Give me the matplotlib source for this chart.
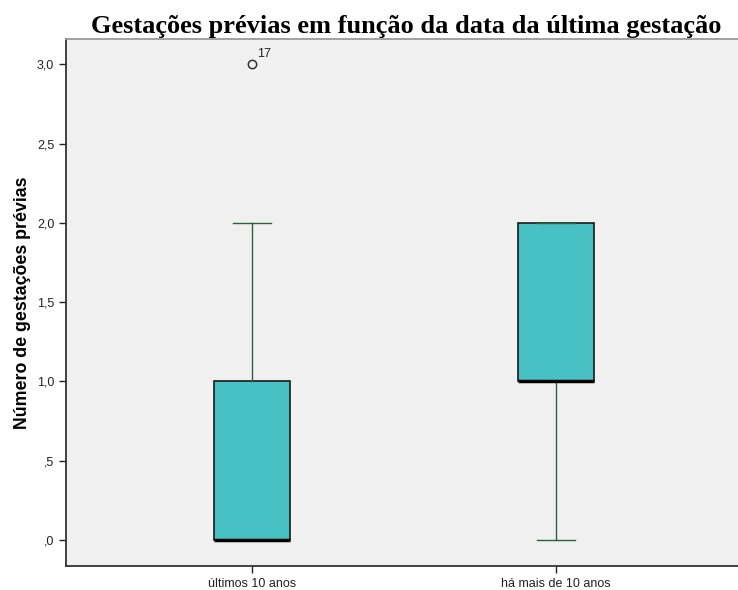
import matplotlib
matplotlib.use("Agg")
import matplotlib.pyplot as plt

# Summary statistics per group
categories = ["últimos 10 anos", "há mais de 10 anos"]
whisker_low = [0.0, 0.0]
q1 = [0.0, 1.0]
median = [0.0, 1.0]
q3 = [1.0, 2.0]
whisker_high = [2.0, 2.0]
outliers = [[3.0], []]
outlier_ids = [["17"], []]

yticks = [0.0, 0.5, 1.0, 1.5, 2.0, 2.5, 3.0]
ytick_labels = [",0", ",5", "1,0", "1,5", "2,0", "2,5", "3,0"]

W, H = 738, 590
fig = plt.figure(figsize=(W / 100, H / 100), dpi=100)
ax = fig.add_axes([66 / W, 1 - 566 / H, (W - 66) / W, (566 - 39) / H])
ax.set_facecolor("#f0f0f0")

stats = []
for i, name in enumerate(categories):
    stats.append(dict(label=name, whislo=whisker_low[i], q1=q1[i], med=median[i],
                      q3=q3[i], whishi=whisker_high[i], fliers=outliers[i]))

positions = [1, 2]
ax.bxp(stats, positions=positions, widths=0.25, patch_artist=True, showfliers=True,
       boxprops=dict(facecolor="#48c1c5", edgecolor="#1a1a1a", linewidth=1.2),
       medianprops=dict(color="black", linewidth=2.5),
       whiskerprops=dict(color="#2f5e3c", linewidth=1.0),
       capprops=dict(color="#2f5e3c", linewidth=1.0),
       capwidths=0.125,
       flierprops=dict(marker="o", markerfacecolor="none", markeredgecolor="#333333",
                       markersize=6, markeredgewidth=1.1))

for i, ids in enumerate(outlier_ids):
    for val, lab in zip(outliers[i], ids):
        ax.annotate(lab, (positions[i], val), xytext=(4, 5), textcoords="offset points",
                    fontsize=9, family="Liberation Sans", color="#222222")

# x range: box centers at px 252 and 556 within axes spanning 66..738
px1, px2 = 252, 556
scale = (px2 - px1) / 1.0
ax.set_xlim(1 - (px1 - 66) / scale, 1 + (W - px1) / scale)
ax.set_ylim(-0.165, 3.16)

ax.set_yticks(yticks)
ax.set_yticklabels(ytick_labels, fontsize=9, family="Liberation Sans")
ax.set_xticks(positions)
ax.set_xticklabels(categories, fontsize=9, family="Liberation Sans")
ax.tick_params(axis="both", length=5, width=1, color="#222222", labelcolor="#222222")

ax.set_ylabel("Número de gestações prévias", fontsize=12.8, fontweight="bold",
              family="Liberation Sans", labelpad=4)

for side in ["left", "bottom"]:
    ax.spines[side].set_color("#333333")
    ax.spines[side].set_linewidth(1.3)
ax.spines["top"].set_color("#9a9a9a")
ax.spines["top"].set_linewidth(1.3)
ax.spines["right"].set_visible(False)

fig.text(0.551, 1 - 26 / H, "Gestações prévias em função da data da última gestação",
         ha="center", va="center", fontsize=19, fontweight="bold",
         family="Liberation Serif")

fig.savefig("out.png", dpi=100)
